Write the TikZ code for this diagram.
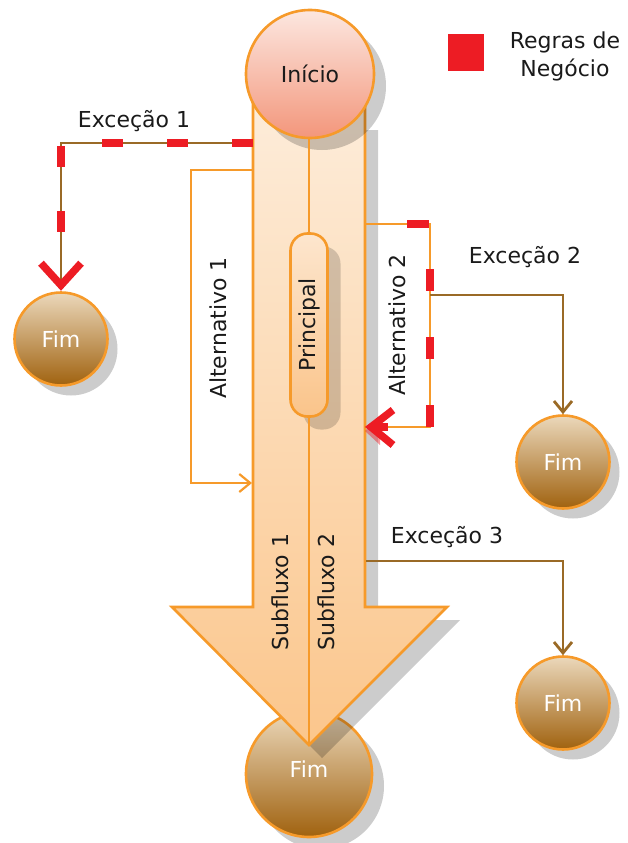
\documentclass[tikz,border=0pt]{standalone}
\usepackage{fontspec}
\setmainfont{DejaVu Sans}
\usetikzlibrary{arrows.meta,calc,shadows}
\definecolor{orng}{HTML}{F69A2A}
\definecolor{brn}{HTML}{9A6A26}
\definecolor{redc}{HTML}{ED1C24}
\definecolor{arrTop}{HTML}{FDEEDD}
\definecolor{arrBot}{HTML}{FBC68C}
\definecolor{iniTop}{HTML}{FCE7E0}
\definecolor{iniBot}{HTML}{F3967B}
\definecolor{fimTop}{HTML}{EBD8BB}
\definecolor{fimBot}{HTML}{A0620F}
\definecolor{prTop}{HTML}{FDE6CE}
\definecolor{prBot}{HTML}{FAC48A}
\definecolor{txt}{HTML}{1A1A1A}
\begin{document}
\begin{tikzpicture}[x=1pt,y=-1pt,
  every node/.style={font=\fontsize{22}{28}\selectfont, text=txt},
  circ/.style={circle, draw=orng, line width=2.6pt, inner sep=0pt},
  bigshd/.style={drop shadow={shadow xshift=12pt, shadow yshift=-12pt, fill=black, opacity=0.2}},
  smshd/.style={drop shadow={shadow xshift=10pt, shadow yshift=-10pt, fill=black, opacity=0.2}},
  fimnode/.style={circ, minimum size=93pt, top color=fimTop, bottom color=fimBot, text=white, smshd},
  orline/.style={draw=orng, line width=2.2pt},
  brline/.style={draw=brn, line width=2.8pt},
  reddash/.style={draw=redc, line width=7.5pt},
  redv/.style={draw=redc, line width=7.5pt, line join=miter},
  barb/.style={-{Straight Barb[length=11pt,width=18pt]}},
  lbl/.style={inner sep=0pt}
]
\useasboundingbox (0,0) rectangle (627,843);

% main end circle (behind arrow)
\node[circ, minimum size=126pt, top color=fimTop, bottom color=fimBot, text=white, bigshd] (fimA) at (309,774) {};
\node[text=white] at (309,769) {Fim};

% big arrow: shadow then body
\coordinate (sl) at (253,75);
\coordinate (bl) at (253,607);
\coordinate (hl) at (172,607);
\coordinate (tip) at (309,745);
\coordinate (hr) at (447,607);
\coordinate (br) at (365,607);
\coordinate (sr) at (365,75);
\fill[black, opacity=0.2] ($(bl)+(13,13)$) -- ($(hl)+(13,13)$) -- ($(tip)+(13,13)$) -- ($(hr)+(13,13)$) -- ($(br)+(13,13)$) -- ($(sr)+(13,55)$) -- ($(sl)+(13,55)$) -- cycle;
\shadedraw[top color=arrTop, bottom color=arrBot, draw=orng, line width=2.6pt, line join=miter]
  (sl) -- (bl) -- (hl) -- (tip) -- (hr) -- (br) -- (sr) -- cycle;

% start circle
\node[circ, minimum size=128pt, top color=iniTop, bottom color=iniBot, bigshd] (inicio) at (310,74) {Início};

% principal
\node[draw=orng, line width=2.6pt, rounded corners=17pt, minimum width=37pt, minimum height=183pt, inner sep=0pt,
  top color=prTop, bottom color=prBot,
  drop shadow={shadow xshift=13pt, shadow yshift=-13pt, fill=black, opacity=0.17}] (principal) at (309,325) {\rotatebox{90}{Principal}};

% central line
\draw[orline] (principal.north |- inicio.south) -- (principal.north);
\draw[orline] (principal.south) -- (tip);

% other end circles
\node[fimnode] (fim1) at (61,339) {Fim};
\node[fimnode] (fim2) at (563,462) {Fim};
\node[fimnode] (fim3) at (563,703) {Fim};

% Alternativo 1
\coordinate (a1s) at (253,170);
\coordinate (a1c1) at (191,170);
\coordinate (a1c2) at (191,483);
\coordinate (a1e) at (252,483);
\draw[orline, barb, line join=miter] (a1s) -- (a1c1) -- (a1c2) -- (a1e);

% Alternativo 2
\coordinate (a2s) at (365,224);
\coordinate (a2c1) at (430,224);
\coordinate (a2c2) at (430,427);
\coordinate (a2e) at (380,427);
\draw[orline, line join=miter] (a2s) -- (a2c1) -- (a2c2) -- (a2e);
\draw[reddash, dash pattern=on 22pt off 46pt, dash phase=26pt] (a2s) -- (a2c1) -- (a2c2);
\draw[reddash] (a2c2) -- ++(0,-20);
\fill[redc, opacity=0.45] (365,431) -- (380,417) -- (380,445) -- cycle;
\draw[redv] (393,410) -- (371,427) -- (393,445);
\draw[reddash] (371,427) -- (a2e) -- ++(8,0);

% Exceção 1
\coordinate (e1s) at (253,143);
\draw[brline] (e1s) -| ($(fim1.north)+(0,-4)$);
\draw[reddash, dash pattern=on 21pt off 44pt] (e1s) -| ($(fim1.north)+(0,-30)$);
\draw[redv] ($(fim1.north)+(-20,-28)$) -- ($(fim1.north)+(0,-6)$) -- ($(fim1.north)+(20,-28)$);

% Exceção 2
\coordinate (e2s) at (430,295);
\draw[brline, barb] (e2s) -| (fim2.north);

% Exceção 3
\coordinate (e3s) at (366,561);
\draw[brline, barb] (e3s) -| (fim3.north);

% labels
\node[lbl] (lx1) at (134,121) {Exceção 1};
\node[lbl] (lx2) at (525,257) {Exceção 2};
\node[lbl] (lx3) at (447,537) {Exceção 3};
\node[lbl, rotate=90] (la1) at (218,328) {Alternativo 1};
\node[lbl, rotate=90] (la2) at (397,325) {Alternativo 2};
\node[lbl, rotate=90] (ls1) at (280,592) {Subfluxo 1};
\node[lbl, rotate=90] (ls2) at (326,592) {Subfluxo 2};

% legend
\node[fill=redc, minimum width=36pt, minimum height=37pt, inner sep=0pt] (leg) at (466,53) {};
\node[lbl, align=center] (legt) at (565,56) {Regras de\\Negócio};
\end{tikzpicture}
\end{document}
